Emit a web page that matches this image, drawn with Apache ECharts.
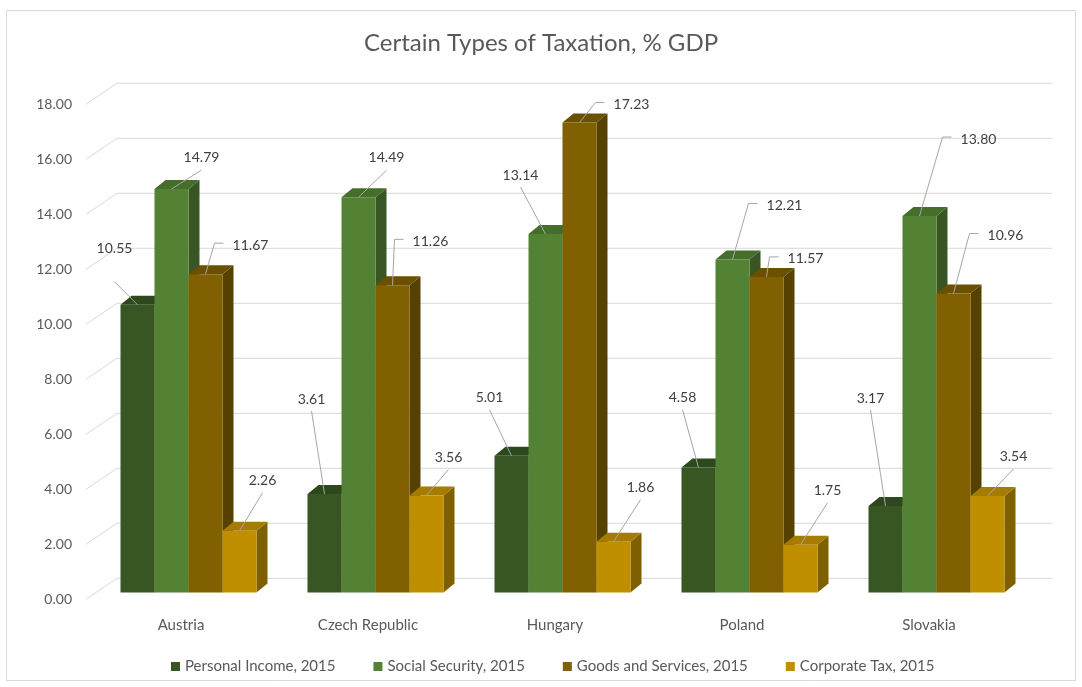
<!DOCTYPE html>
<html><head><meta charset="utf-8">
<script src="https://cdn.jsdelivr.net/npm/echarts@6/dist/echarts.min.js"></script>
<style>html,body{margin:0;padding:0;background:#fff}#c{width:1082px;height:687px}</style>
</head><body><div id="c"></div>
<script>
// ---- data ----
const categories = ['Austria', 'Czech Republic', 'Hungary', 'Poland', 'Slovakia'];
const seriesNames = ['Personal Income, 2015', 'Social Security, 2015', 'Goods and Services, 2015', 'Corporate Tax, 2015'];
const personalIncome = [10.55, 3.61, 5.01, 4.58, 3.17];
const socialSecurity = [14.79, 14.49, 13.14, 12.21, 13.80];
const goodsServices = [11.67, 11.26, 17.23, 11.57, 10.96];
const corporateTax = [2.26, 3.56, 1.86, 1.75, 3.54];
const yTicks = [0, 2, 4, 6, 8, 10, 12, 14, 16, 18];

// ---- styles / layout ----
const faceColors = [
  ['#375623', '#2d481c', '#2a431a'],
  ['#548235', '#456e2b', '#375623'],
  ['#806000', '#6b5000', '#574100'],
  ['#bf8f00', '#a67c00', '#7f6000']
];
// label placement relative to bar top (dx, dy, leader mode, gap)
const labelLayout = [
  [[-23, -56, 'b', 33], [-13, -95, 'b', 12], [-22, -58, 'b', 12], [-16, -70, 'b', 12], [-15, -108, 'b', 12]],
  [[30, -32, 'b', 13], [28, -40, 'b', 13], [-25, -59, 'b', 12], [52, -54, 'l'], [59, -77, 'l']],
  [[45, -29, 'l'], [38, -44, 'l'], [52, -18, 'l'], [39, -18, 'l'], [52, -58, 'l']],
  [[23, -50, 'b', 12], [22, -38, 'b', 12], [27, -54, 'b', 12], [27, -54, 'b', 12], [26, -39, 'b', 12]]
];
const seriesData = [personalIncome, socialSecurity, goodsServices, corporateTax];
const DX = 11, DY = -9;
const FONT = 'Lato, "Open Sans", sans-serif';

function geom(si, api) {
  const ci = api.value(0), v = api.value(1);
  const base = api.coord([ci, 0]);
  const top = api.coord([ci, v]);
  const band = api.size([1, 0])[0];
  const w = band * 34 / 187;
  const cx = base[0] + (si - 1.5) * w;
  return {ci, v, cx, w, y0: base[1], y1: top[1]};
}

function barRenderer(si) {
  return function (params, api) {
    const g = geom(si, api);
    const x0 = g.cx - g.w / 2, x1 = g.cx + g.w / 2;
    const c = faceColors[si];
    return {
      type: 'group',
      children: [
        {type: 'polygon', shape: {points: [[x1, g.y1], [x1 + DX, g.y1 + DY], [x1 + DX, g.y0 + DY], [x1, g.y0]]}, style: {fill: c[2]}},
        {type: 'polygon', shape: {points: [[x0, g.y1], [x0 + DX, g.y1 + DY], [x1 + DX, g.y1 + DY], [x1, g.y1]]}, style: {fill: c[1]}},
        {type: 'rect', shape: {x: x0, y: g.y1, width: g.w, height: g.y0 - g.y1}, style: {fill: c[0]}}
      ]
    };
  };
}

function labelRenderer(si) {
  return function (params, api) {
    const g = geom(si, api);
    const L = labelLayout[si][g.ci];
    const lx = g.cx + L[0], ly = g.y1 + L[1];
    const txt = g.v.toFixed(2);
    const tw = txt.length * 7.2;
    let pts;
    if (L[2] === 'l') {
      const sx = lx - tw / 2 - 9, sy = ly - 2;
      pts = [[sx, sy], [sx - 9, sy], [g.cx, g.y1]];
    } else {
      pts = [[lx, ly + L[3]], [g.cx, g.y1]];
    }
    return {
      type: 'group',
      children: [
        {type: 'polyline', shape: {points: pts}, style: {stroke: '#a6a6a6', lineWidth: 1, fill: null}},
        {type: 'text', x: lx, y: ly, style: {text: txt, fill: '#404040', font: '14px ' + FONT, align: 'center', verticalAlign: 'middle'}}
      ]
    };
  };
}

const series = [];
// wall gridlines (back wall + left side diagonals)
series.push({
  type: 'custom', xAxisIndex: 0, yAxisIndex: 0, silent: true, z: 1,
  data: yTicks.map(v => [0, v]),
  renderItem: function (params, api) {
    const l = api.coord([0, api.value(1)]);
    const r = api.coord([1, api.value(1)]);
    return {type: 'polyline', shape: {points: [[l[0], l[1]], [l[0] + 31, l[1] - 21], [r[0], l[1] - 21]]},
      style: {stroke: '#d9d9d9', lineWidth: 1, fill: null}};
  }
});
seriesData.forEach((arr, si) => {
  series.push({
    type: 'custom', name: seriesNames[si], xAxisIndex: 1, yAxisIndex: 1, z: 2,
    itemStyle: {color: faceColors[si][0]},
    data: arr.map((v, i) => [i, v]),
    renderItem: barRenderer(si)
  });
});
seriesData.forEach((arr, si) => {
  series.push({
    type: 'custom', name: seriesNames[si], xAxisIndex: 1, yAxisIndex: 1, z: 3, silent: true,
    itemStyle: {color: faceColors[si][0]},
    data: arr.map((v, i) => [i, v]),
    renderItem: labelRenderer(si)
  });
});

const chart = echarts.init(document.getElementById('c'));
chart.setOption({
  backgroundColor: '#fff',
  animation: false,
  title: {
    text: 'Certain Types of Taxation, % GDP', left: 'center', top: 26,
    textStyle: {fontFamily: FONT, fontSize: 24, fontWeight: 'normal', color: '#595959'}
  },
  legend: {
    data: seriesNames, top: 654, left: 166, icon: 'rect', itemWidth: 9, itemHeight: 9, itemGap: 38,
    textStyle: {fontFamily: FONT, fontSize: 15, color: '#595959'}
  },
  grid: [
    {left: 86, right: 30, top: 104.3, bottom: 87.7},
    {left: 95, right: 52, top: 101.5, bottom: 94.5}
  ],
  xAxis: [
    {gridIndex: 0, type: 'value', min: 0, max: 1, show: false},
    {gridIndex: 1, type: 'category', data: categories,
      axisLine: {show: false}, axisTick: {show: false},
      axisLabel: {margin: 25, padding: [0, 15, 0, 0], fontFamily: FONT, fontSize: 15, color: '#595959'}}
  ],
  yAxis: [
    {gridIndex: 0, type: 'value', min: 0, max: 18, interval: 2,
      axisLine: {show: false}, axisTick: {show: false}, splitLine: {show: false},
      axisLabel: {margin: 14, padding: [6, 0, 0, 0], formatter: v => v.toFixed(2), fontFamily: FONT, fontSize: 14, color: '#595959'}},
    {gridIndex: 1, type: 'value', min: 0, max: 18, interval: 2, show: false, splitLine: {show: false}}
  ],
  graphic: [
    {type: 'rect', shape: {x: 6.5, y: 10.5, width: 1069, height: 670}, style: {fill: null, stroke: '#d9d9d9', lineWidth: 1}, silent: true, z: -1}
  ],
  series: series
});
</script></body></html>
